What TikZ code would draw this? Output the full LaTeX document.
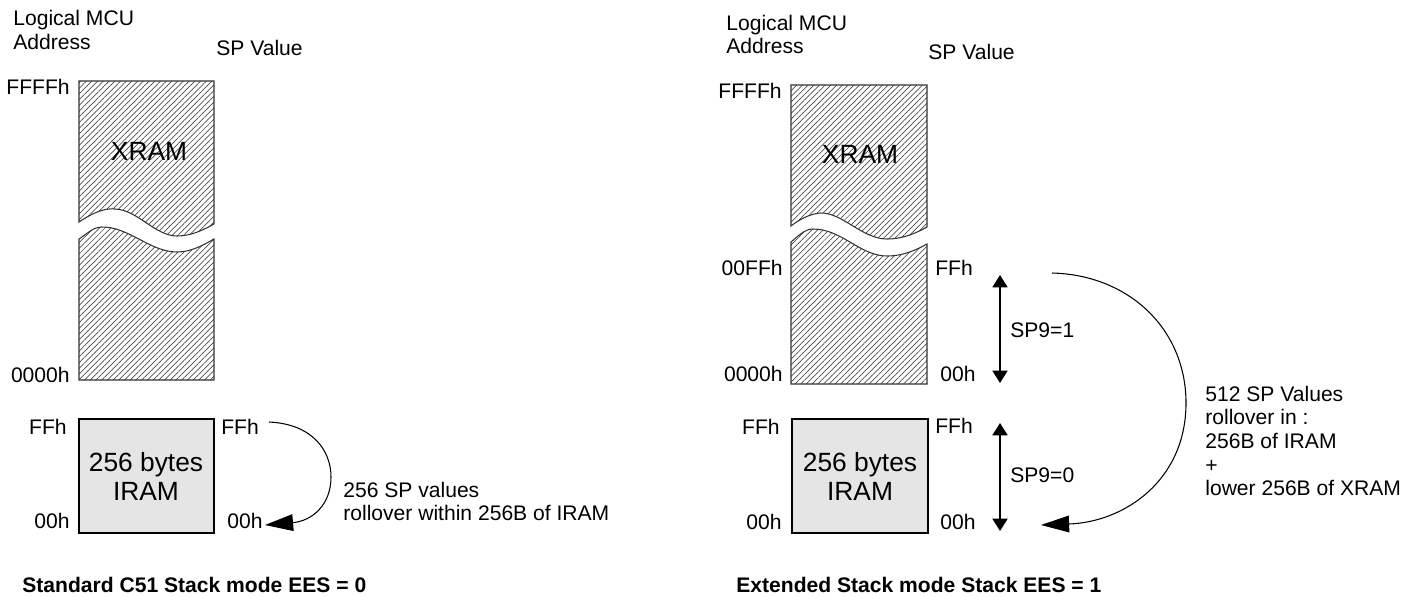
\documentclass[tikz,border=0pt]{standalone}
\usepackage{fontspec}
\setmainfont{Liberation Sans}
\usetikzlibrary{patterns.meta,arrows.meta}

\begin{document}
\begin{tikzpicture}[x=0.02cm,y=-0.02cm,
  lbl/.style={inner sep=0pt,font=\fontsize{12}{13.5}\selectfont},
  big/.style={inner sep=0pt,align=center,font=\fontsize{15}{16.5}\selectfont},
  xram/.style={draw=black!80,line width=0.6pt,pattern={Lines[angle=45,distance=2.3pt,line width=0.3pt]},pattern color=black!85},
  iram/.style={draw,line width=1.1pt,fill=black!10},
  roll/.style={line width=0.6pt,-{Triangle[length=16pt,width=9.5pt]}},
  spnine/.style={line width=1.1pt,{Triangle[length=7pt,width=8.5pt]}-{Triangle[length=7pt,width=8.5pt]}}]
\useasboundingbox (0,0) rectangle (1419,596);

% standard C51 stack
\draw[xram] (79,81)--(214,81)--(214,224) .. controls (205,229) and (192,236) .. (177,236)
 .. controls (155,236) and (138,210) .. (115,209) .. controls (105,208) and (94,212) .. (79,222)--cycle;
\draw[xram] (79,380)--(79,239) .. controls (88,233) and (94,227) .. (101,227)
 .. controls (128,226) and (150,252) .. (177,252) .. controls (192,252) and (205,244) .. (214,239)--(214,380)--cycle;
\draw[iram] (79,419) rectangle (214,533);

\node[lbl,anchor=west,align=left] (lhead) at (13,30) {Logical MCU\\Address};
\node[lbl,anchor=west] (lsp) at (216,48) {SP Value};
\node[big] (lxram) at (149,151) {XRAM};
\node[big] (liram) at (146,476) {256 bytes\\IRAM};
\node[lbl,anchor=east] (lffff) at (70,87) {FFFFh};
\node[lbl,anchor=east] (lzero) at (70,375) {0000h};
\node[lbl,anchor=east] (lffa) at (67,427) {FFh};
\node[lbl,anchor=east] (lzza) at (70,521) {00h};
\node[lbl,anchor=west] (lffb) at (221,427) {FFh};
\node[lbl,anchor=west] (lzzb) at (227,521) {00h};
\node[lbl,anchor=west,align=left] (lnote) at (343,501.5) {256 SP values\\rollover within 256B of IRAM};
\node[lbl,anchor=west,font=\fontsize{12}{13.5}\selectfont\bfseries] (ltitle) at (22,585) {Standard C51 Stack mode EES = 0};

\coordinate (la) at (269,422);
\coordinate (lb) at (265,525);
\draw[roll] (la) .. controls (312,424) and (331,450) .. (331,477) .. controls (331,505) and (312,521) .. (lb);

% extended stack
\draw[xram] (791,85)--(927,85)--(927,227) .. controls (918,232) and (904,239) .. (887,239)
 .. controls (862,239) and (842,212) .. (820,213) .. controls (810,214) and (800,219) .. (791,226)--cycle;
\draw[xram] (791,384)--(791,242) .. controls (798,236) and (805,229) .. (813,229)
 .. controls (842,229) and (860,256) .. (887,256) .. controls (904,256) and (918,249) .. (927,244)--(927,384)--cycle;
\draw[iram] (792,419) rectangle (928,533);

\node[lbl,anchor=west,align=left] (rhead) at (726,34.5) {Logical MCU\\Address};
\node[lbl,anchor=west] (rsp) at (928,52) {SP Value};
\node[big] (rxram) at (860,154) {XRAM};
\node[big] (riram) at (860,476) {256 bytes\\IRAM};
\node[lbl,anchor=east] (rffff) at (782,91) {FFFFh};
\node[lbl,anchor=east] (rooff) at (783,268) {00FFh};
\node[lbl,anchor=east] (rzero) at (783,374) {0000h};
\node[lbl,anchor=east] (rffa) at (780,427) {FFh};
\node[lbl,anchor=east] (rzza) at (782,522) {00h};
\node[lbl,anchor=west] (rffx) at (935,268) {FFh};
\node[lbl,anchor=west] (rzzx) at (940,374) {00h};
\node[lbl,anchor=west] (rffb) at (935,426) {FFh};
\node[lbl,anchor=west] (rzzb) at (940,522) {00h};
\node[lbl,anchor=west] (spone) at (1010,330) {SP9=1};
\node[lbl,anchor=west] (spzero) at (1010,475) {SP9=0};
\node[lbl,anchor=west,align=left] (rnote) at (1205,441) {512 SP Values\\rollover in :\\256B of IRAM\\+\\lower 256B of XRAM};
\node[lbl,anchor=west,font=\fontsize{12}{13.5}\selectfont\bfseries] (rtitle) at (736,585) {Extended Stack mode Stack EES = 1};

\coordinate (ta) at (1000,275);
\coordinate (tb) at (1000,383);
\coordinate (ua) at (1000,423);
\coordinate (ub) at (1000,531);
\draw[spnine] (ta) -- (tb);
\draw[spnine] (ua) -- (ub);

\coordinate (ra) at (1052,273);
\coordinate (rb) at (1041,525);
\draw[roll] (ra) .. controls (1130,275) and (1186,330) .. (1186,403) .. controls (1186,480) and (1125,522) .. (rb);
\end{tikzpicture}
\end{document}
